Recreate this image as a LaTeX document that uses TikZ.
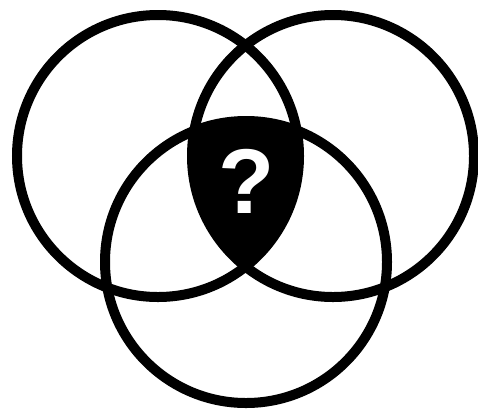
\documentclass[tikz,border=0pt]{standalone}
\usepackage{fontspec}
\setsansfont{Liberation Sans}
\usetikzlibrary{positioning}

\begin{document}
\begin{tikzpicture}[
    x=1pt, y=-1pt,
    ring/.style = {draw=black, line width=10pt},
    qmark/.style = {text=white, font=\sffamily\bfseries\fontsize{92}{92}\selectfont, inner sep=0pt}
]
\useasboundingbox (0,0) rectangle (478,408);

\coordinate (cl) at (158,156);
\coordinate (cr) at (333,156);
\coordinate (cb) at (246,262);

% shared region of all three sets
\begin{scope}
  \clip (cl) circle (141);
  \clip (cr) circle (141);
  \fill[black] (cb) circle (141);
\end{scope}

\draw[ring] (cl) circle (141);
\draw[ring] (cr) circle (141);
\draw[ring] (cb) circle (141);

\node (q) [qmark] at (247,181) {?};

\end{tikzpicture}
\end{document}
